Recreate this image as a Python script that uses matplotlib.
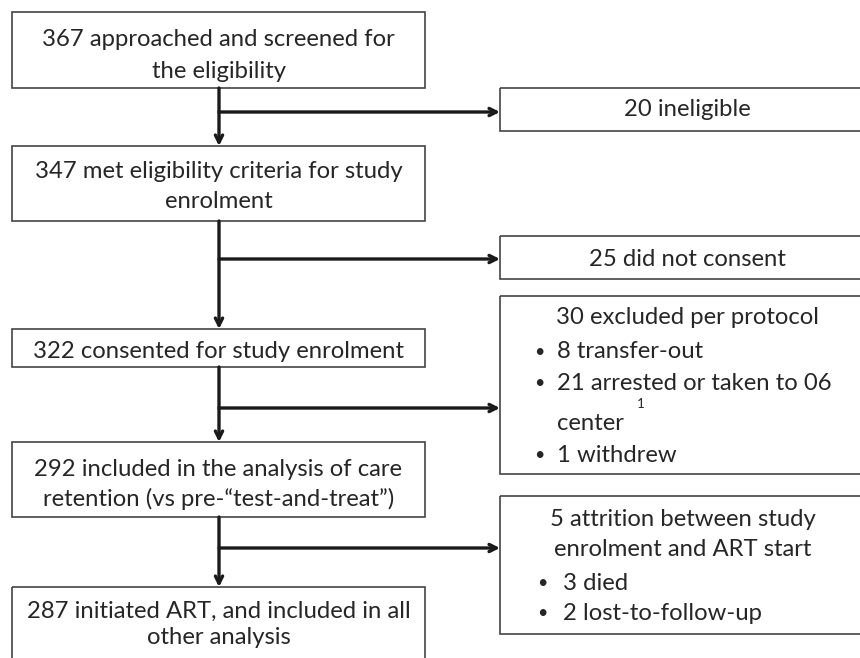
import matplotlib
matplotlib.use("Agg")
import matplotlib.pyplot as plt
from matplotlib.patches import Rectangle

plt.rcParams['font.family'] = ['Lato', 'DejaVu Sans']

# ---- data ----
main_texts = [
    "367 approached and screened for\nthe eligibility",
    "347 met eligibility criteria for study\nenrolment",
    "322 consented for study enrolment",
    "292 included in the analysis of care\nretention (vs pre-\u201ctest-and-treat\u201d)",
    "287 initiated ART, and included in all\nother analysis",
]
side_simple = ["20 ineligible", "25 did not consent"]
excl_header = "30 excluded per protocol"
excl_items = ["8 transfer-out", "21 arrested or taken to 06", "1 withdrew"]
attr_header = "5 attrition between study\nenrolment and ART start"
attr_items = ["3 died", "2 lost-to-follow-up"]

# ---- layout (pixels) ----
W, H = 860, 658
fig = plt.figure(figsize=(W / 100, H / 100), dpi=100)
ax = fig.add_axes([0, 0, 1, 1])
ax.set_xlim(0, W)
ax.set_ylim(H, 0)
ax.axis('off')

TXT = '#262626'
EDGE = '#444444'
FS = 17.2

main_boxes = [(12, 12, 88), (12, 146, 221), (12, 329, 367), (12, 442, 517), (12, 587, 670)]
main_right = 425
line_y = [[40, 71], [171, 202], [352], [469, 499], [611, 638]]
cx = 219

for (x0, y0, y1), txt, ys in zip(main_boxes, main_texts, line_y):
    ax.add_patch(Rectangle((x0, y0), main_right - x0, y1 - y0, fill=False,
                           edgecolor=EDGE, lw=1.2, clip_on=True))
    for line, yy in zip(txt.split("\n"), ys):
        ax.text((x0 + main_right) / 2, yy, line, ha='center', va='center',
                fontsize=FS, color=TXT)

# side boxes
sx0, sx1 = 500, 880
side_boxes = [(88, 131), (236, 279), (296, 474), (496, 634)]
for y0, y1 in side_boxes:
    ax.add_patch(Rectangle((sx0, y0), sx1 - sx0, y1 - y0, fill=False,
                           edgecolor=EDGE, lw=1.2, clip_on=True))

ax.text(687, 110, side_simple[0], ha='center', va='center', fontsize=FS, color=TXT)
ax.text(687, 259, side_simple[1], ha='center', va='center', fontsize=FS, color=TXT)

# excluded box
ax.text(687, 318, excl_header, ha='center', va='center', fontsize=FS, color=TXT)
bx, tx = 539, 557
BFS = 13
for item, yy in zip(excl_items, [352, 383, 455]):
    ax.text(bx, yy, "\u2022", ha='center', va='center', fontsize=BFS, color=TXT)
    ax.text(tx, yy, item, ha='left', va='center', fontsize=FS, color=TXT)
ax.text(tx, 423, "center", ha='left', va='center', fontsize=FS, color=TXT)
ax.text(641, 404, "1", ha='center', va='center', fontsize=9.5, color=TXT)

# attrition box
for line, yy in zip(attr_header.split("\n"), [520, 550]):
    ax.text(683, yy, line, ha='center', va='center', fontsize=FS, color=TXT)
for item, yy in zip(attr_items, [583, 613]):
    ax.text(bx + 3, yy, "\u2022", ha='center', va='center', fontsize=BFS, color=TXT)
    ax.text(563, yy, item, ha='left', va='center', fontsize=FS, color=TXT)

# arrows
ARW = dict(arrowstyle='->', color='#1a1a1a', lw=2.4, mutation_scale=13,
           shrinkA=0, shrinkB=0)
for i in range(4):
    ya = main_boxes[i][2]
    yb = main_boxes[i + 1][1]
    ax.annotate('', xy=(cx, yb), xytext=(cx, ya), arrowprops=ARW)

for yy in [112, 259, 408, 548]:
    ax.annotate('', xy=(sx0, yy), xytext=(cx, yy), arrowprops=ARW)

fig.savefig('out.png', dpi=100, facecolor='white')
